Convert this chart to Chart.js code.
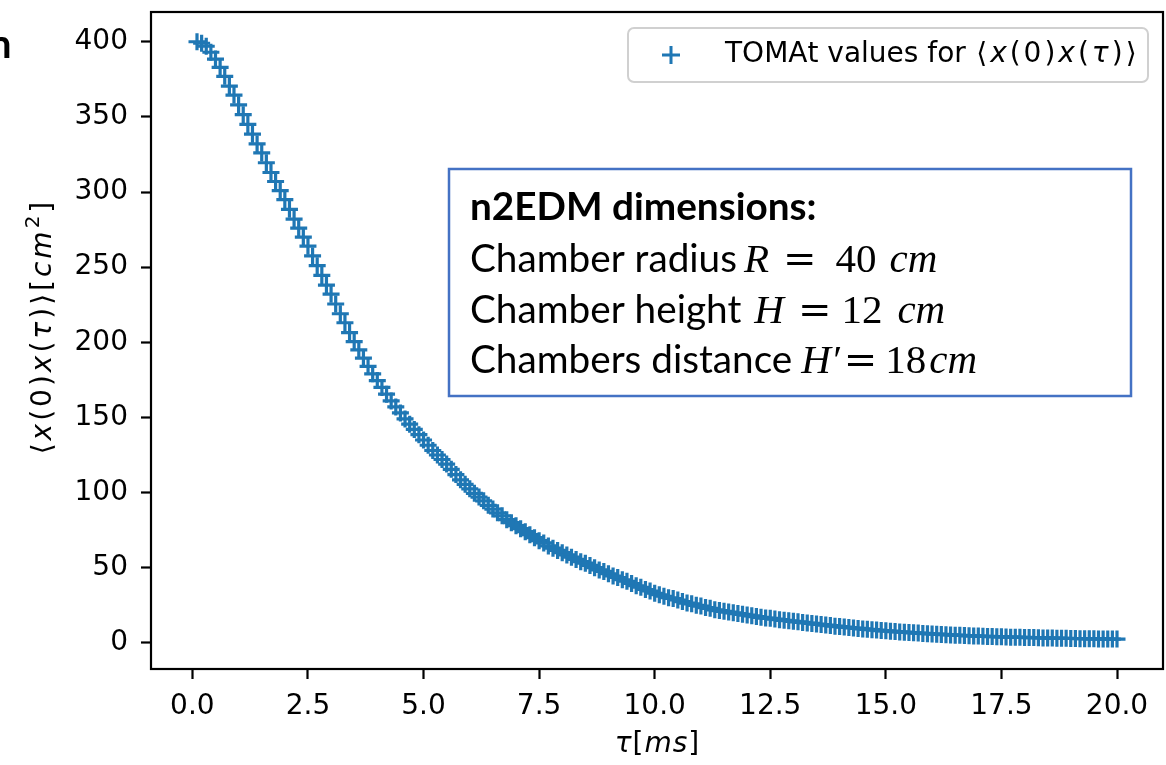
<!DOCTYPE html>
<html>
<head>
<meta charset="utf-8">
<script src="https://cdn.jsdelivr.net/npm/chart.js@4.4.1/dist/chart.umd.min.js"></script>
<style>
  html, body { margin: 0; padding: 0; background: #fff; }
  #wrap { width: 1166px; height: 765px; position: relative; }
</style>
</head>
<body>
<div id="wrap"><canvas id="corrChart"></canvas></div>
<script>
// tau values, ms
const tau = [
  0.1, 0.2, 0.3, 0.4, 0.5, 0.6, 0.7, 0.8, 0.9, 1.0,
  1.1, 1.2, 1.3, 1.4, 1.5, 1.6, 1.7, 1.8, 1.9, 2.0,
  2.1, 2.2, 2.3, 2.4, 2.5, 2.6, 2.7, 2.8, 2.9, 3.0,
  3.1, 3.2, 3.3, 3.4, 3.5, 3.6, 3.7, 3.8, 3.9, 4.0,
  4.1, 4.2, 4.3, 4.4, 4.5, 4.6, 4.7, 4.8, 4.9, 5.0,
  5.1, 5.2, 5.3, 5.4, 5.5, 5.6, 5.7, 5.8, 5.9, 6.0,
  6.1, 6.2, 6.3, 6.4, 6.5, 6.6, 6.7, 6.8, 6.9, 7.0,
  7.1, 7.2, 7.3, 7.4, 7.5, 7.6, 7.7, 7.8, 7.9, 8.0,
  8.1, 8.2, 8.3, 8.4, 8.5, 8.6, 8.7, 8.8, 8.9, 9.0,
  9.1, 9.2, 9.3, 9.4, 9.5, 9.6, 9.7, 9.8, 9.9, 10.0,
  10.1, 10.2, 10.3, 10.4, 10.5, 10.6, 10.7, 10.8, 10.9, 11.0,
  11.1, 11.2, 11.3, 11.4, 11.5, 11.6, 11.7, 11.8, 11.9, 12.0,
  12.1, 12.2, 12.3, 12.4, 12.5, 12.6, 12.7, 12.8, 12.9, 13.0,
  13.1, 13.2, 13.3, 13.4, 13.5, 13.6, 13.7, 13.8, 13.9, 14.0,
  14.1, 14.2, 14.3, 14.4, 14.5, 14.6, 14.7, 14.8, 14.9, 15.0,
  15.1, 15.2, 15.3, 15.4, 15.5, 15.6, 15.7, 15.8, 15.9, 16.0,
  16.1, 16.2, 16.3, 16.4, 16.5, 16.6, 16.7, 16.8, 16.9, 17.0,
  17.1, 17.2, 17.3, 17.4, 17.5, 17.6, 17.7, 17.8, 17.9, 18.0,
  18.1, 18.2, 18.3, 18.4, 18.5, 18.6, 18.7, 18.8, 18.9, 19.0,
  19.1, 19.2, 19.3, 19.4, 19.5, 19.6, 19.7, 19.8, 19.9, 20.0
];

// <x(0)x(tau)>, cm^2
const corr = [
  400.0, 399.0, 397.0, 393.0, 388.5, 383.0, 377.0, 370.5, 364.5, 358.0,
  351.5, 345.0, 338.5, 332.0, 326.0, 319.5, 313.0, 307.0, 301.0, 295.0,
  288.5, 282.0, 276.0, 270.0, 264.0, 257.5, 251.0, 244.5, 238.0, 232.0,
  225.5, 219.0, 213.0, 206.5, 200.5, 195.0, 189.5, 184.0, 179.0, 174.5,
  170.0, 165.5, 161.0, 157.0, 153.0, 149.0, 145.5, 142.0, 138.5, 135.0,
  131.5, 128.0, 125.0, 122.0, 119.0, 115.5, 112.0, 108.5, 105.5, 102.5,
  99.5, 97.0, 94.5, 91.5, 89.0, 86.5, 84.5, 82.0, 80.0, 78.0,
  76.0, 74.0, 72.0, 70.0, 68.0, 66.5, 64.5, 63.0, 61.5, 60.0,
  58.5, 57.0, 55.5, 54.0, 53.0, 51.5, 50.0, 48.5, 47.5, 46.0,
  44.5, 43.5, 42.0, 41.0, 39.5, 38.0, 37.0, 35.5, 34.5, 33.0,
  32.0, 31.0, 30.0, 29.5, 28.5, 27.5, 26.5, 26.0, 25.0, 24.5,
  23.5, 23.0, 22.0, 21.5, 21.0, 20.5, 20.0, 19.5, 19.0, 18.5,
  18.0, 17.5, 17.0, 16.5, 16.3, 15.8, 15.4, 15.0, 14.7, 14.3,
  14.0, 13.6, 13.2, 12.9, 12.5, 12.2, 11.8, 11.5, 11.1, 10.8,
  10.5, 10.2, 9.9, 9.6, 9.3, 9.0, 8.8, 8.5, 8.2, 8.0,
  7.8, 7.5, 7.3, 7.1, 6.9, 6.7, 6.5, 6.3, 6.1, 5.9,
  5.8, 5.6, 5.4, 5.3, 5.1, 5.0, 4.9, 4.7, 4.6, 4.5,
  4.4, 4.3, 4.2, 4.1, 4.0, 3.9, 3.8, 3.8, 3.7, 3.6,
  3.5, 3.5, 3.4, 3.3, 3.2, 3.2, 3.1, 3.0, 3.0, 2.9,
  2.9, 2.8, 2.8, 2.7, 2.7, 2.6, 2.6, 2.5, 2.5, 2.5
];

const xTicks = [0, 2.5, 5, 7.5, 10, 12.5, 15, 17.5, 20];
const yTicks = [0, 50, 100, 150, 200, 250, 300, 350, 400];

const seriesName = 'TOMAt values for ⟨x(0)x(τ)⟩';
const blue = '#1f77b4';
const MPL = '"DejaVu Sans"';
const FS = 28;

// text runs: n = normal, i = italic, s = superscript
const yTitleRuns = [['⟨', 'n'], ['x', 'i'], ['(0)', 'n'], ['x', 'i'], ['(', 'n'], ['τ', 'i'], [')⟩[', 'n'], ['cm', 'i'], ['2', 's'], [']', 'n']];
const xTitleRuns = [['τ', 'i'], ['[', 'n'], ['ms', 'i'], [']', 'n']];
const legendRuns = [['TOMAt values for ', 'n', 0], ['⟨', 'n'], ['x', 'i'], ['(0)', 'n'], ['x', 'i'], ['(', 'n'], ['τ', 'i'], [')⟩', 'n']];

// text box lines: [text, kind, gap before]
const boxLines = [
  [['n2EDM dimensions:', 'b', 0]],
  [['Chamber radius', 's', 0], ['R', 'mi', 7], ['=', 'eq', 14], ['40', 'm', 19], ['cm', 'mi', 13]],
  [['Chamber height', 's', 0], ['H', 'mi', 13], ['=', 'eq', 14], ['12', 'm', 10], ['cm', 'mi', 15]],
  [['Chambers distance', 's', 0], ['H′', 'mi', 9], ['=', 'eq', 4], ['18', 'm', 8], ['cm', 'mi', 3]]
];

function runFont(kind, size) {
  if (kind === 'i') return 'italic ' + size + 'px ' + MPL;
  if (kind === 's') return Math.round(size * 0.7) + 'px ' + MPL;
  return size + 'px ' + MPL;
}

// draws mixed upright / italic text; spacing = extra px per glyph in math runs
function drawRuns(ctx, runs, x, y, size, align, spacing) {
  const sp = r => (r[2] === 0 ? 0 : spacing);
  let total = 0;
  runs.forEach(r => {
    ctx.font = runFont(r[1], size);
    total += ctx.measureText(r[0]).width + sp(r) * [...r[0]].length;
  });
  let cx = align === 'center' ? x - total / 2 : x;
  ctx.textAlign = 'left';
  ctx.textBaseline = 'middle';
  runs.forEach(r => {
    ctx.font = runFont(r[1], size);
    const dy = r[1] === 's' ? -size * 0.38 : 0;
    for (const ch of r[0]) {
      ctx.fillText(ch, cx + sp(r) / 2, y + dy);
      cx += ctx.measureText(ch).width + sp(r);
    }
  });
}

const decorPlugin = {
  id: 'decor',
  afterDraw(chart) {
    const ctx = chart.ctx;
    const a = chart.chartArea;
    ctx.save();

    // axes frame
    ctx.strokeStyle = '#000';
    ctx.lineWidth = 2.2;
    ctx.strokeRect(a.left, a.top, a.right - a.left, a.bottom - a.top);

    ctx.fillStyle = '#000';
    // axis titles
    drawRuns(ctx, xTitleRuns, (a.left + a.right) / 2, 745, FS, 'center', 1);
    ctx.save();
    ctx.translate(44, 328);
    ctx.rotate(-Math.PI / 2);
    drawRuns(ctx, yTitleRuns, 0, 0, FS, 'center', 3);
    ctx.restore();

    // legend
    ctx.beginPath();
    ctx.roundRect(628, 28, 520, 54, 6);
    ctx.fillStyle = 'rgba(255,255,255,0.8)';
    ctx.fill();
    ctx.strokeStyle = '#d0d0d0';
    ctx.lineWidth = 2;
    ctx.stroke();
    ctx.strokeStyle = blue;
    ctx.lineWidth = 3;
    ctx.beginPath();
    ctx.moveTo(662, 55); ctx.lineTo(680, 55);
    ctx.moveTo(671, 46); ctx.lineTo(671, 64);
    ctx.stroke();
    ctx.fillStyle = '#000';
    drawRuns(ctx, legendRuns, 725, 55, FS, 'left', 3);

    // text box
    ctx.fillStyle = '#fff';
    ctx.fillRect(449, 169, 682, 227);
    ctx.strokeStyle = '#4472c4';
    ctx.lineWidth = 2.5;
    ctx.strokeRect(449, 169, 682, 227);

    ctx.font = '100px Lato';
    const sansSize = 100 * 267 / ctx.measureText('Chamber radius').width;
    const fonts = {
      b: 'bold ' + sansSize + 'px Lato',
      s: sansSize + 'px Lato',
      mi: 'italic 41px "Liberation Serif"',
      m: '41px "Liberation Serif"',
      eq: '40px "DejaVu Serif"'
    };
    const baselines = [220, 272, 323, 373];
    ctx.fillStyle = '#000';
    ctx.textAlign = 'left';
    ctx.textBaseline = 'alphabetic';
    boxLines.forEach((line, li) => {
      let cx = 470;
      line.forEach(part => {
        cx += part[2];
        ctx.font = fonts[part[1]];
        ctx.fillText(part[0], cx, baselines[li]);
        cx += ctx.measureText(part[0]).width;
      });
    });

    // cut-off letter at the top-left edge
    ctx.font = 'bold 40px Lato';
    ctx.fillText('n', -11, 58);

    ctx.restore();
  }
};

const canvas = document.getElementById('corrChart');

new Chart(canvas, {
  type: 'scatter',
  data: {
    datasets: [{
      label: seriesName,
      data: tau.map((t, i) => ({ x: t, y: corr[i] })),
      pointStyle: 'cross',
      pointRadius: 8.5,
      pointHoverRadius: 8.5,
      borderColor: blue,
      backgroundColor: blue,
      borderWidth: 3.2,
      showLine: false
    }]
  },
  options: {
    responsive: true,
    maintainAspectRatio: false,
    animation: false,
    events: [],
    layout: { autoPadding: false, padding: { top: 12, right: 3, left: 0, bottom: 0 } },
    plugins: {
      legend: { display: false },
      tooltip: { enabled: false }
    },
    scales: {
      x: {
        type: 'linear',
        min: -0.895,
        max: 20.995,
        afterBuildTicks: s => { s.ticks = xTicks.map(v => ({ value: v })); },
        afterFit: s => { s.height = 96; s.paddingLeft = 0; s.paddingRight = 0; },
        border: { display: false },
        grid: { drawOnChartArea: false, drawTicks: true, tickLength: 10, tickWidth: 2.2, tickColor: '#000' },
        ticks: {
          color: '#000',
          padding: 11,
          maxRotation: 0,
          font: { family: 'DejaVu Sans', size: FS },
          callback: v => v.toFixed(1)
        }
      },
      y: {
        type: 'linear',
        min: -17.4,
        max: 419.8,
        afterBuildTicks: s => { s.ticks = yTicks.map(v => ({ value: v })); },
        afterFit: s => { s.width = 151; s.paddingTop = 0; s.paddingBottom = 0; },
        border: { display: false },
        grid: { drawOnChartArea: false, drawTicks: true, tickLength: 10, tickWidth: 2.2, tickColor: '#000' },
        ticks: {
          color: '#000',
          padding: 13,
          font: { family: 'DejaVu Sans', size: FS },
          callback: v => String(v)
        }
      }
    }
  },
  plugins: [decorPlugin]
});
</script>
</body>
</html>
